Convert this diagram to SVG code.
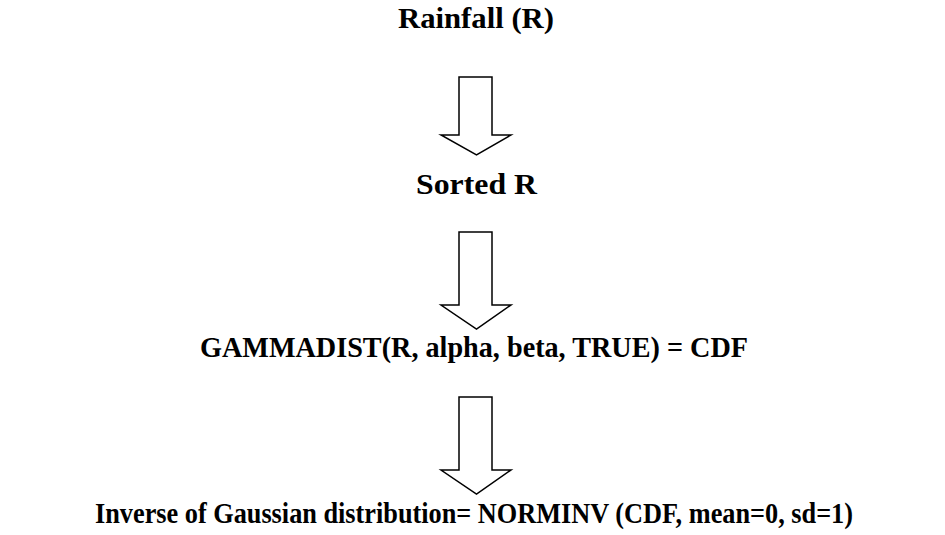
<svg xmlns="http://www.w3.org/2000/svg" width="945" height="535" viewBox="0 0 945 535">
<style>
.t{font-family:"Liberation Serif","Times New Roman",serif;font-weight:bold;font-size:30px;fill:#000;text-anchor:middle}
.a{fill:#fff;stroke:#000;stroke-width:1.5;stroke-linejoin:miter}
</style>
<rect width="945" height="535" fill="#fff"/>
<g id="n1"><text class="t" x="476" y="28" textLength="156" lengthAdjust="spacingAndGlyphs">Rainfall (R)</text></g>
<g id="n2"><text class="t" x="476.5" y="194" textLength="121" lengthAdjust="spacingAndGlyphs">Sorted R</text></g>
<g id="n3"><text class="t" x="474" y="357" textLength="548" lengthAdjust="spacingAndGlyphs">GAMMADIST(R, alpha, beta, TRUE) = CDF</text></g>
<g id="n4"><text class="t" x="474" y="523" textLength="758" lengthAdjust="spacingAndGlyphs">Inverse of Gaussian distribution= NORMINV (CDF, mean=0, sd=1)</text></g>
<g id="connectors">
<path class="a" d="M459,77 H492 V135 H511 L476.5,155 L441,135 H459 Z"/>
<path class="a" d="M459,232 H492 V305 H511 L476.5,329 L441,305 H459 Z"/>
<path class="a" d="M459,397 H492 V470 H511 L476.5,494 L441,470 H459 Z"/>
</g>
</svg>
